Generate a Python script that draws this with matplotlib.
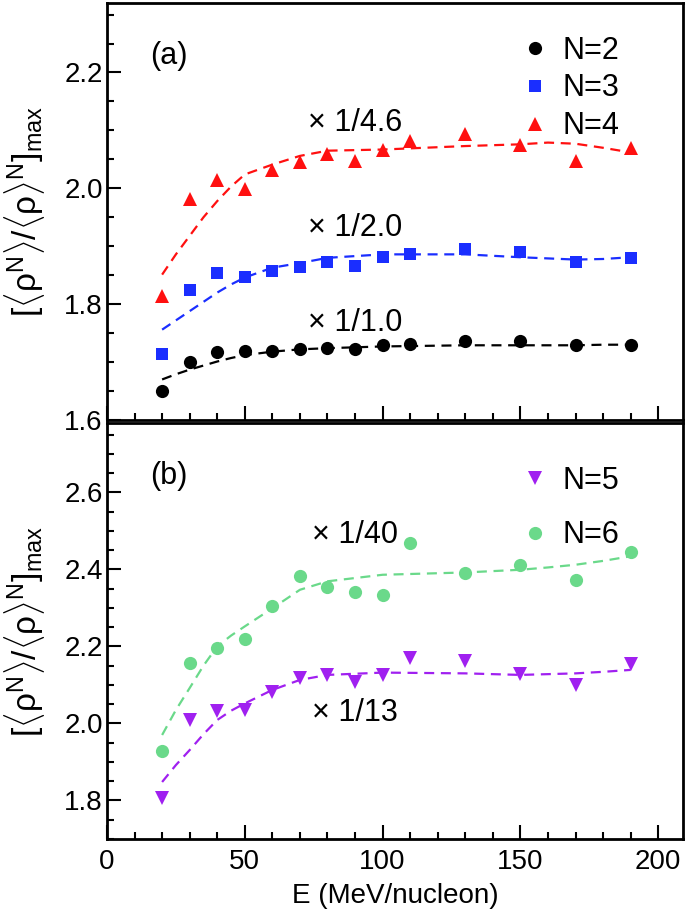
import matplotlib
matplotlib.use('Agg')
import matplotlib.pyplot as plt
from matplotlib.ticker import MultipleLocator

plt.rcParams['font.family'] = ['Liberation Sans', 'DejaVu Sans']
plt.rcParams['mathtext.fontset'] = 'custom'
plt.rcParams['mathtext.rm'] = 'Liberation Sans'
plt.rcParams['mathtext.it'] = 'Liberation Sans:italic'

# beam energies (MeV/nucleon)
E = [20, 30, 40, 50, 60, 70, 80, 90, 100, 110, 130, 150, 170, 190]

# panel (a) points
n2 = [1.650, 1.701, 1.718, 1.720, 1.720, 1.722, 1.724, 1.722, 1.729, 1.731, 1.736, 1.736, 1.729, 1.730]
n3 = [1.714, 1.824, 1.854, 1.847, 1.858, 1.864, 1.873, 1.866, 1.881, 1.886, 1.896, 1.890, 1.873, 1.879]
n4 = [1.814, 1.981, 2.014, 1.998, 2.031, 2.046, 2.059, 2.047, 2.066, 2.082, 2.093, 2.075, 2.048, 2.070]

# panel (b) points
n5 = [1.807, 2.009, 2.033, 2.035, 2.082, 2.117, 2.126, 2.108, 2.126, 2.169, 2.163, 2.128, 2.100, 2.154]
n6 = [1.929, 2.156, 2.195, 2.220, 2.306, 2.384, 2.353, 2.341, 2.334, 2.469, 2.390, 2.411, 2.373, 2.444]

# dashed fit curves
E_fit = [20, 25, 30, 35, 40, 45, 50, 60, 70, 80, 100, 130, 150, 160, 170, 180, 190]
fit2 = [1.670, 1.679, 1.687, 1.694, 1.701, 1.707, 1.712, 1.718, 1.722, 1.724, 1.727, 1.729, 1.729, 1.729, 1.729, 1.730, 1.730]
fit3 = [1.756, 1.772, 1.788, 1.804, 1.820, 1.834, 1.846, 1.863, 1.871, 1.880, 1.886, 1.886, 1.881, 1.879, 1.877, 1.878, 1.881]
fit4 = [1.851, 1.886, 1.918, 1.950, 1.978, 2.003, 2.024, 2.041, 2.056, 2.065, 2.067, 2.073, 2.076, 2.079, 2.077, 2.070, 2.062]
fit5 = [1.848, 1.892, 1.931, 1.972, 2.009, 2.033, 2.052, 2.087, 2.113, 2.126, 2.132, 2.130, 2.126, 2.128, 2.130, 2.134, 2.139]
fit6 = [1.970, 2.035, 2.092, 2.150, 2.200, 2.228, 2.252, 2.299, 2.347, 2.369, 2.386, 2.392, 2.399, 2.405, 2.412, 2.422, 2.434]

black = 'black'
blue = '#1a2eff'
red = '#ff1010'
purple = '#a020f0'
green = '#6ad98a'

fs_tick = 20
fs_txt = 22
dash = (4.5, 3)

fig = plt.figure(figsize=(6.85, 9.13), dpi=100)
ax1 = fig.add_axes([107/685, 1-420/913, 576/685, 417/913])
ax2 = fig.add_axes([107/685, 1-839/913, 576/685, 416/913])

# panel (a)
ax1.plot(E_fit, fit2, color=black, lw=1.6, dashes=dash)
ax1.plot(E_fit, fit3, color=blue, lw=1.6, dashes=dash)
ax1.plot(E_fit, fit4, color=red, lw=1.6, dashes=dash)
ax1.plot(E, n2, 'o', color=black, ms=9.5, mew=0, label='N=2')
ax1.plot(E, n3, 's', color=blue, ms=9, mew=0, label='N=3')
ax1.plot(E, n4, '^', color=red, ms=9.5, mew=0, label='N=4')

ax1.text(73, 2.112, '× 1/4.6', fontsize=fs_txt, va='center')
ax1.text(73, 1.931, '× 1/2.0', fontsize=fs_txt, va='center')
ax1.text(73, 1.767, '× 1/1.0', fontsize=fs_txt, va='center')
ax1.text(15.5, 2.229, '(a)', fontsize=fs_txt, va='center')

ax1.set_ylim(1.6, 2.32)
ax1.yaxis.set_major_locator(MultipleLocator(0.2))
ax1.yaxis.set_minor_locator(MultipleLocator(0.05))
ax1.legend(loc='upper left', bbox_to_anchor=(0.716, 0.922), frameon=False, fontsize=fs_txt,
           numpoints=1, handlelength=1.0, handletextpad=0.42, labelspacing=0.26,
           borderpad=0, borderaxespad=0)

# panel (b)
ax2.plot(E_fit, fit5, color=purple, lw=1.6, dashes=dash)
ax2.plot(E_fit, fit6, color=green, lw=1.6, dashes=dash)
ax2.plot(E, n5, 'v', color=purple, ms=9.5, mew=0, label='N=5')
ax2.plot(E, n6, 'o', color=green, ms=9.5, mew=0, label='N=6')

ax2.text(74.5, 2.49, '× 1/40', fontsize=fs_txt, va='center')
ax2.text(74.5, 2.027, '× 1/13', fontsize=fs_txt, va='center')
ax2.text(15.5, 2.642, '(b)', fontsize=fs_txt, va='center')

ax2.set_ylim(1.7, 2.78)
ax2.yaxis.set_major_locator(MultipleLocator(0.2))
ax2.yaxis.set_minor_locator(MultipleLocator(0.05))
ax2.legend(loc='upper left', bbox_to_anchor=(0.716, 0.897), frameon=False, fontsize=fs_txt,
           numpoints=1, handlelength=1.0, handletextpad=0.42, labelspacing=0.8,
           borderpad=0, borderaxespad=0)
ax2.set_xlabel('E (MeV/nucleon)', fontsize=fs_tick, labelpad=6)

ylab = r'$[\langle\mathrm{ρ}^{\mathrm{N}}\rangle/\langle\mathrm{ρ}\rangle^{\mathrm{N}}]_{\mathrm{max}}$'
for ax in (ax1, ax2):
    ax.set_xlim(0, 209)
    ax.xaxis.set_major_locator(MultipleLocator(50))
    ax.xaxis.set_minor_locator(MultipleLocator(10))
    ax.tick_params(which='both', direction='in', top=False, right=False,
                   labelsize=fs_tick, width=1.5)
    ax.tick_params(which='major', length=10)
    ax.tick_params(which='minor', length=5)
    ax.tick_params(axis='x', pad=7)
    ax.tick_params(axis='y', pad=3)
    for s in ax.spines.values():
        s.set_linewidth(2)
    ax.set_ylabel(ylab, fontsize=24)
    ax.yaxis.set_label_coords(-0.105, 0.5)

ax1.tick_params(labelbottom=False)

fig.savefig('out.png', dpi=100)
